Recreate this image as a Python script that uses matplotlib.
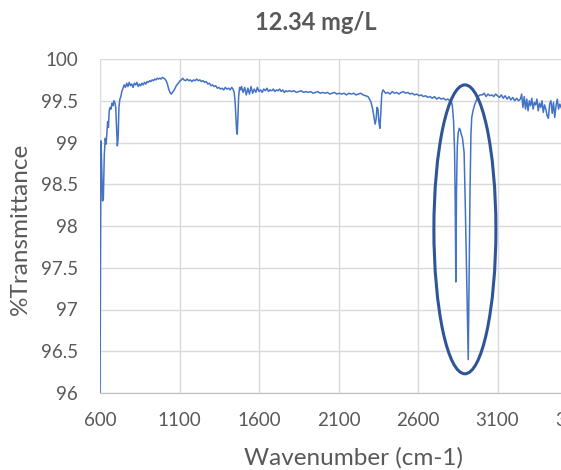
# -*- coding: utf-8 -*-

import matplotlib as mpl
import matplotlib.pyplot as plt
from matplotlib.patches import Ellipse
from matplotlib.ticker import FuncFormatter

mpl.rcParams['font.family'] = ['Lato', 'DejaVu Sans']
mpl.rcParams['text.color'] = '#595959'
mpl.rcParams['xtick.color'] = '#595959'
mpl.rcParams['ytick.color'] = '#595959'
mpl.rcParams['savefig.facecolor'] = 'white'

title = '12.34 mg/L'
x_label = 'Wavenumber (cm-1)'
y_label = '%Transmittance'

x_ticks = [600, 1100, 1600, 2100, 2600, 3100, 3600]
y_ticks = [96, 96.5, 97, 97.5, 98, 98.5, 99, 99.5, 100]

# spectrum, segment by segment
wavenumber = [
    600, 606, 611, 616, 621, 627, 633, 638, 643, 648, 653, 658, 664, 669,
    675, 681, 687, 693, 699, 704, 709, 714, 719, 725, 731, 737, 743,
    752, 760, 768, 776, 784, 792, 800, 808, 816, 824, 832, 840, 848, 856,
    864, 872, 880, 888, 896, 904, 912, 920, 928, 936, 944, 952, 960, 968,
    976, 984, 992, 1000, 1008, 1016,
    1024, 1032, 1040, 1048, 1056, 1064, 1072, 1080, 1088, 1096, 1104, 1112,
    1120, 1128,
    1138, 1148, 1158, 1168, 1178, 1188, 1198, 1208, 1218, 1228, 1238, 1248,
    1258, 1268, 1278, 1288, 1298, 1308, 1318, 1328, 1338, 1348, 1358, 1368,
    1378, 1388, 1398, 1408, 1418, 1428, 1436,
    1444, 1450, 1455, 1459, 1463, 1467, 1472, 1478, 1484, 1490,
    1500, 1510, 1520, 1530, 1540, 1550, 1560, 1570, 1580, 1590, 1600, 1610,
    1620, 1630, 1640, 1650, 1660, 1670, 1680, 1690, 1700, 1710, 1720, 1730,
    1740, 1750, 1760, 1770, 1780, 1790,
    1805, 1820, 1835, 1850, 1865, 1880, 1895, 1910, 1925, 1940, 1955, 1970,
    1985, 2000, 2015, 2030, 2045, 2060, 2075, 2090, 2105, 2120, 2135, 2150,
    2165, 2180, 2195, 2210, 2225, 2240, 2255, 2270,
    2285, 2295, 2305, 2315, 2323, 2330, 2336, 2342, 2348, 2354, 2360, 2366,
    2372, 2380, 2388,
    2396, 2410, 2424, 2438, 2452, 2466, 2480, 2494, 2508, 2522, 2536, 2550,
    2564, 2578, 2592, 2606, 2620, 2634, 2648, 2662, 2676, 2690, 2704, 2718,
    2732, 2746, 2760, 2774, 2788, 2800,
    2808, 2816, 2824, 2830, 2834, 2838, 2842, 2847, 2853, 2860, 2866, 2872,
    2880, 2890, 2898, 2906, 2912, 2916, 2921, 2927, 2933, 2938, 2946, 2956,
    2966, 2978, 2990,
    3004, 3016, 3028, 3040, 3052, 3064, 3076, 3088, 3100, 3112, 3124, 3136,
    3148, 3160, 3172, 3184, 3196, 3208, 3220, 3232, 3244,
    3252, 3260, 3268, 3276, 3284, 3292, 3300, 3308, 3316, 3324, 3332, 3340,
    3348, 3356, 3364, 3372, 3380, 3388, 3396, 3404, 3412, 3420, 3428, 3436,
    3444, 3452, 3460, 3468, 3476, 3484, 3492, 3500, 3510, 3520, 3530, 3540,
    3550, 3560, 3570, 3580, 3590, 3600,
]

transmittance = [
    96.00, 99.02, 98.70, 98.30, 98.32, 98.85, 99.05, 98.98, 99.10, 99.25,
    99.18, 99.38, 99.42, 99.40, 99.47, 99.44, 99.50, 99.48, 99.42, 99.20,
    98.96, 99.05, 99.42, 99.52, 99.55, 99.61, 99.64,
    99.69, 99.66, 99.71, 99.67, 99.72, 99.68, 99.70, 99.66, 99.71, 99.69,
    99.72, 99.67, 99.70, 99.68, 99.71, 99.69, 99.72, 99.70, 99.73, 99.72,
    99.74, 99.73, 99.75, 99.74, 99.76, 99.75, 99.77, 99.76, 99.77, 99.76,
    99.78, 99.77, 99.76, 99.74,
    99.70, 99.64, 99.60, 99.58, 99.60, 99.62, 99.65, 99.68, 99.70, 99.72,
    99.74, 99.75, 99.77, 99.75,
    99.74, 99.76, 99.74, 99.75, 99.73, 99.75, 99.74, 99.76, 99.74, 99.75,
    99.73, 99.74, 99.72, 99.73, 99.70, 99.71, 99.68, 99.69, 99.67, 99.68,
    99.65, 99.66, 99.64, 99.65, 99.63, 99.66, 99.64, 99.65, 99.63, 99.66,
    99.64,
    99.60, 99.48, 99.30, 99.15, 99.10, 99.28, 99.55, 99.66, 99.63, 99.67,
    99.60, 99.66, 99.57, 99.65, 99.58, 99.67, 99.59, 99.64, 99.60, 99.66,
    99.61, 99.63, 99.60, 99.64, 99.62, 99.65, 99.61, 99.63, 99.62, 99.64,
    99.61, 99.63, 99.62, 99.64, 99.61, 99.63, 99.60, 99.62, 99.61, 99.62,
    99.61, 99.62, 99.60, 99.61, 99.62, 99.60, 99.61, 99.60, 99.61, 99.59,
    99.60, 99.61, 99.59, 99.60, 99.59, 99.60, 99.58, 99.59, 99.60, 99.58,
    99.59, 99.58, 99.59, 99.57, 99.59, 99.58, 99.59, 99.57, 99.58, 99.59,
    99.57, 99.56,
    99.55, 99.52, 99.48, 99.40, 99.30, 99.22, 99.27, 99.42, 99.40, 99.25,
    99.17, 99.35, 99.58, 99.63, 99.61,
    99.59, 99.60, 99.58, 99.61, 99.59, 99.60, 99.58, 99.60, 99.61, 99.59,
    99.60, 99.58, 99.59, 99.57, 99.58, 99.56, 99.57, 99.55, 99.56, 99.54,
    99.55, 99.53, 99.55, 99.52, 99.54, 99.52, 99.53, 99.51, 99.52, 99.50,
    99.50, 99.44, 99.25, 98.90, 98.30, 97.33, 98.40, 98.95, 99.12, 99.17,
    99.15, 99.10, 99.05, 98.88, 98.20, 97.40, 96.80, 96.40, 97.30, 98.40,
    99.10, 99.30, 99.38, 99.45, 99.50, 99.55, 99.57,
    99.57, 99.59, 99.55, 99.58, 99.56, 99.57, 99.55, 99.58, 99.56, 99.54,
    99.57, 99.53, 99.56, 99.52, 99.55, 99.51, 99.54, 99.50, 99.53, 99.50,
    99.52,
    99.58, 99.42, 99.55, 99.40, 99.52, 99.38, 99.50, 99.44, 99.53, 99.40,
    99.48, 99.45, 99.52, 99.38, 99.47, 99.42, 99.50, 99.36, 99.45, 99.40,
    99.32, 99.29, 99.46, 99.50, 99.35, 99.48, 99.30, 99.44, 99.52, 99.40,
    99.46, 99.42, 99.38, 99.50, 99.34, 99.45, 99.40, 99.52, 99.36, 99.46,
    99.41, 99.48,
]

# circled C-H stretch region
circle_center = (2895, 97.96)
circle_width = 390
circle_height = 3.46

fig = plt.figure(figsize=(5.61, 4.70), dpi=100)
# plot area runs past the right edge, like the cropped original
ax = fig.add_axes([100 / 561, 77 / 470, 477 / 561, 334 / 470])

ax.plot(wavenumber, transmittance, color='#4472C4', linewidth=1.1, zorder=3)

ax.add_patch(Ellipse(circle_center, circle_width, circle_height, fill=False,
                     edgecolor='#2F5597', linewidth=2.2, zorder=4))

ax.set_xlim(600, 3600)
ax.set_ylim(96, 100)
ax.set_xticks(x_ticks)
ax.set_yticks(y_ticks)
ax.yaxis.set_major_formatter(FuncFormatter(lambda v, p: '%g' % v))
ax.tick_params(length=0, labelsize=13.5)
ax.tick_params(axis='y', pad=16)
ax.tick_params(axis='x', pad=14)

ax.grid(True, color='#D9D9D9', linewidth=1.0)
ax.set_axisbelow(True)
for side in ['top', 'right', 'left']:
    ax.spines[side].set_visible(False)
ax.spines['bottom'].set_color('#BFBFBF')

fig.text(316 / 561, 1 - 23 / 470, title, ha='center', va='center',
         fontsize=17, fontweight='bold')
fig.text(354 / 561, 1 - 458 / 470, x_label, ha='center', va='center',
         fontsize=17.5)
fig.text(20 / 561, 1 - 229 / 470, y_label, ha='center', va='center',
         fontsize=17.5, rotation=90)

fig.savefig('out.png', dpi=100)
